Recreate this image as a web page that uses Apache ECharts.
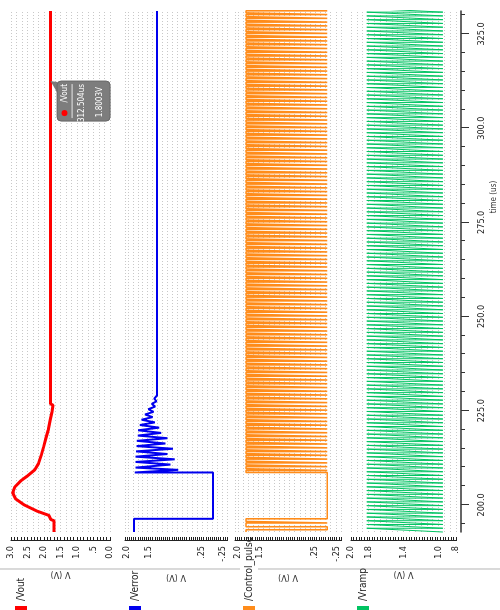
<!DOCTYPE html>
<html>
<head>
<meta charset="utf-8">
<script src="https://cdn.jsdelivr.net/npm/echarts@6.0.0/dist/echarts.min.js"></script>
<style>
html, body { margin: 0; padding: 0; width: 500px; height: 610px; overflow: hidden; background: #fff; }
/* The waveform viewer is laid out landscape (time running left to right) and then
   turned a quarter turn counter-clockwise, exactly like the reference screenshot. */
#chart { position: absolute; left: 0; top: 0; width: 610px; height: 500px;
         transform-origin: 0 0; transform: translateY(610px) rotate(-90deg); }
</style>
</head>
<body>
<div id="chart"></div>
<script>
// ---------------- data ----------------
const seriesNames = ['/Vout', '/Verror', '/Control_pulse', '/Vramp'];

// time axis (us)
const timeMin = 192.8;
const timeMax = 331.1;
const timeMajorTicks = [200, 225, 250, 275, 300, 325];

// value axes of the four panels
const panelRanges = [[0, 3.0], [-0.35, 2.05], [-0.35, 2.05], [0.8, 2.0]];
const panelLabelValues = [
  [3.0, 2.5, 2.0, 1.5, 1.0, 0.5, 0.0],
  [2.0, 1.5, 0.25, -0.25],
  [2.0, 1.5, 0.25, -0.25],
  [2.0, 1.8, 1.4, 1.0, 0.8]
];
const panelLabelTexts = [
  ['3.0', '2.5', '2.0', '1.5', '1.0', '.5', '0.0'],
  ['2.0', '1.5', '.25', '-.25'],
  ['2.0', '1.5', '.25', '-.25'],
  ['2.0', '1.8', '1.4', '1.0', '.8']
];

// /Vout
const voutTime = [192.8, 195.8, 196.1, 197.2, 198.3, 200.0, 201.6, 203.2, 204.8, 206.4, 207.7, 209.3, 210.9, 213.3, 215.4, 217.8, 219.9, 222.6, 224.7, 226.5, 226.8, 331.1];
const voutVal  = [1.70, 1.70, 1.79, 1.85, 2.20, 2.60, 2.86, 2.95, 2.88, 2.70, 2.50, 2.28, 2.17, 2.08, 2.01, 1.94, 1.87, 1.81, 1.76, 1.73, 1.80, 1.80];

// /Verror
const verrorTime = [192.8, 196.3, 196.3, 208.6, 208.6, 209.3, 209.9, 210.7, 211.4, 212.1, 212.8, 213.5, 214.2, 214.9, 215.6, 216.3, 217.0, 217.7, 218.4, 219.1, 219.8, 220.5, 221.2, 221.9, 222.6, 223.3, 224.0, 224.7, 225.4, 226.1, 226.8, 227.5, 228.2, 229.0, 331.1];
const verrorVal  = [1.84, 1.84, -0.02, -0.02, 1.82, 0.80, 1.80, 0.98, 1.80, 0.88, 1.80, 1.05, 1.79, 0.92, 1.78, 1.10, 1.77, 1.05, 1.75, 1.20, 1.74, 1.25, 1.70, 1.35, 1.66, 1.40, 1.58, 1.38, 1.50, 1.34, 1.42, 1.31, 1.36, 1.30, 1.30];

// /Control_pulse : edges before regulation starts, then steady switching
const pulseEdgeTime  = [192.8, 193.4, 194.2, 195.2, 195.6, 196.3];
const pulseEdgeLevel = [1.8, -0.04, 1.8, -0.04, 1.8, -0.04];
const switchStart = 208.6;
const switchPeriod = 1.0;    // us, one PWM / ramp cycle
const pulseDuty = 0.55;
const pulseHigh = 1.8;
const pulseLow = -0.04;

// /Vramp : saw-tooth between these levels, same period
const rampLow = 0.95;
const rampHigh = 1.82;

// cursor read-out
const cursorTime = 312.504;
const cursorValue = 1.8003;
const cursorTexts = ['/Vout', '312.504us', '1.8003V'];

// ---------------- styles / layout ----------------
const FONT = "'Liberation Sans Narrow','DejaVu Sans Condensed','Arial Narrow',sans-serif";
const colors = ['#ff0000', '#0000ee', '#ff8c1a', '#00c462'];
const lineWidths = [3, 2, 1.6, 1];
const gridLayout = [
  { top: 11,  height: 99 },
  { top: 125, height: 102 },
  { top: 235, height: 106 },
  { top: 351, height: 105 }
];
const tickSteps = [0.1, 0.05, 0.05, 0.03];
const gridLineSteps = [1 / 6, 0.35 / 3, 0.35 / 3, 0.8 / 12];

// ---------------- build ----------------
const pairs = (ts, vs) => ts.map((t, i) => [t, vs[i]]);
const voutData = pairs(voutTime, voutVal);
const verrorData = pairs(verrorTime, verrorVal);

const pulseData = [[pulseEdgeTime[0], pulseEdgeLevel[0]]];
for (let i = 1; i < pulseEdgeTime.length; i++) {
  pulseData.push([pulseEdgeTime[i], pulseEdgeLevel[i - 1]]);
  pulseData.push([pulseEdgeTime[i], pulseEdgeLevel[i]]);
}
for (let t0 = switchStart; t0 < timeMax; t0 += switchPeriod) {
  const tOff = t0 + pulseDuty * switchPeriod;
  pulseData.push([t0, pulseLow], [t0, pulseHigh], [tOff, pulseHigh], [tOff, pulseLow]);
}
pulseData.push([timeMax, pulseLow]);

const rampData = [];
for (let t0 = timeMin; t0 < timeMax; t0 += switchPeriod) {
  rampData.push([t0, rampLow], [t0 + switchPeriod, rampHigh]);
}
const seriesData = [voutData, verrorData, pulseData, rampData];

function stepValues(min, max, step) {
  const out = [];
  const n = Math.round((max - min) / step);
  for (let k = 0; k <= n; k++) out.push(+(min + k * step).toFixed(4));
  return out;
}

const grids = gridLayout.map(g => ({ left: 78, right: 11, top: g.top, height: g.height }));

const xAxes = gridLayout.map((g, i) => ({
  type: 'value', gridIndex: i, min: timeMin, max: timeMax, show: false
}));
// visible time axis under the last panel: minor ticks, then major ticks + labels
xAxes.push({
  type: 'value', gridIndex: 3, min: timeMin, max: timeMax, position: 'bottom', offset: 5,
  axisLine: { show: true, onZero: false, lineStyle: { color: '#333', width: 1.5 } },
  axisTick: { show: true, length: 4, customValues: stepValues(195, 330, 5), lineStyle: { color: '#333' } },
  axisLabel: { show: false }, splitLine: { show: false }
});
xAxes.push({
  type: 'value', gridIndex: 3, min: timeMin, max: timeMax, position: 'bottom', offset: 5,
  axisLine: { show: false, onZero: false },
  axisTick: { show: true, length: 8, customValues: timeMajorTicks, lineStyle: { color: '#333' } },
  axisLabel: { show: true, customValues: timeMajorTicks, margin: 16, fontSize: 9, fontFamily: FONT, color: '#222',
               formatter: v => v.toFixed(1) },
  splitLine: { show: false }
});

const yAxes = [];
panelRanges.forEach((r, i) => {
  const vals = panelLabelValues[i], texts = panelLabelTexts[i];
  yAxes.push({
    type: 'value', gridIndex: i, min: r[0], max: r[1], position: 'left', offset: 9,
    name: 'V (V)', nameLocation: 'middle', nameGap: 17,
    nameTextStyle: { fontSize: 9, fontFamily: FONT, color: '#333' },
    axisLine: { show: true, onZero: false, lineStyle: { color: '#222', width: 1 } },
    axisTick: { show: true, inside: true, length: 4, customValues: stepValues(r[0], r[1], tickSteps[i]),
                lineStyle: { color: '#222', width: 1 } },
    axisLabel: { show: true, customValues: vals, margin: 5, fontSize: 9, fontFamily: FONT, color: '#222',
                 formatter: v => { const k = vals.findIndex(x => Math.abs(x - v) < 1e-6); return k >= 0 ? texts[k] : ''; } },
    splitLine: { show: false }
  });
});
panelRanges.forEach((r, i) => {
  yAxes.push({
    type: 'value', gridIndex: i, min: r[0], max: r[1], interval: gridLineSteps[i],
    axisLine: { show: false }, axisTick: { show: false }, axisLabel: { show: false },
    splitLine: { show: true, lineStyle: { color: '#c8c8c8', width: 1, type: [1, 2] } }
  });
});

const series = seriesNames.map((name, i) => ({
  name, type: 'line', xAxisIndex: i, yAxisIndex: i, data: seriesData[i],
  showSymbol: false, symbol: 'none', silent: true, animation: false, clip: true,
  lineStyle: { color: colors[i], width: lineWidths[i] }, itemStyle: { color: colors[i] }
}));

const chart = echarts.init(document.getElementById('chart'), null, { renderer: 'canvas' });
chart.setOption({
  animation: false,
  backgroundColor: '#ffffff',
  grid: grids,
  xAxis: xAxes,
  yAxis: yAxes,
  legend: {
    orient: 'vertical', left: 0, top: 15, padding: 0, itemGap: 102, itemWidth: 4, itemHeight: 12,
    icon: 'rect', selectedMode: false, data: seriesNames,
    textStyle: { fontSize: 10, fontFamily: FONT, color: '#222' }
  },
  series
});

// cursor callout + decorations, placed through the library's own scales
const p = chart.convertToPixel({ xAxisIndex: 0, yAxisIndex: 0 }, [cursorTime, cursorValue]);
const px = p[0], py = p[1];
const calloutFont = '8px ' + FONT;
chart.setOption({
  graphic: [
    { type: 'line', shape: { x1: 41, y1: 0, x2: 41, y2: 240 }, style: { stroke: '#b4b4b4', lineWidth: 1 }, silent: true },
    { type: 'line', shape: { x1: 41, y1: 258, x2: 41, y2: 500 }, style: { stroke: '#b4b4b4', lineWidth: 1 }, silent: true },
    { type: 'text', x: 413, y: 494, style: { text: 'time (us)', font: '8px ' + FONT, fill: '#333', align: 'center', verticalAlign: 'middle' }, silent: true },
    { type: 'polygon', shape: { points: [[px, py], [px - 12, py + 7], [px - 1, py + 7]] }, style: { fill: '#7a7a7a' }, silent: true, z: 100 },
    { type: 'rect', shape: { x: px - 40, y: py + 6.5, width: 40, height: 53, r: 4 }, style: { fill: '#7d7d7d', stroke: '#666', lineWidth: 1 }, silent: true, z: 100 },
    { type: 'circle', shape: { cx: px - 32, cy: py + 14, r: 3 }, style: { fill: '#ff0000' }, silent: true, z: 101 },
    { type: 'text', x: px - 3, y: py + 14, style: { text: cursorTexts[0], font: calloutFont, fill: '#fff', align: 'right', verticalAlign: 'middle' }, silent: true, z: 101 },
    { type: 'line', shape: { x1: px - 37, y1: py + 21.5, x2: px - 3, y2: py + 21.5 }, style: { stroke: '#e8e8e8', lineWidth: 1 }, silent: true, z: 101 },
    { type: 'text', x: px - 3, y: py + 31.5, style: { text: cursorTexts[1], font: calloutFont, fill: '#fff', align: 'right', verticalAlign: 'middle' }, silent: true, z: 101 },
    { type: 'text', x: px - 6, y: py + 49.5, style: { text: cursorTexts[2], font: calloutFont, fill: '#fff', align: 'right', verticalAlign: 'middle' }, silent: true, z: 101 }
  ]
});
</script>
</body>
</html>
